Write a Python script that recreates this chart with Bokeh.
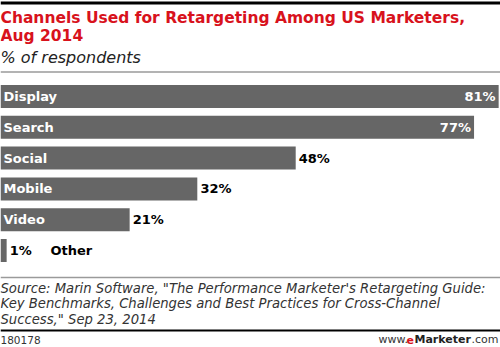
from bokeh.plotting import figure
from bokeh.models import ColumnDataSource, Range1d, Label, Span
from bokeh.core.properties import value
from bokeh.embed import file_html
from bokeh.resources import INLINE

categories = ["Display", "Search", "Social", "Mobile", "Video", "Other"]
values = [81, 77, 48, 32, 21, 1]
value_labels = ["81%", "77%", "48%", "32%", "21%", "1%"]

title_lines = ["Channels Used for Retargeting Among US Marketers,", "Aug 2014"]
subtitle = "% of respondents"
source_lines = [
    "Source: Marin Software, \"The Performance Marketer's Retargeting Guide:",
    "Key Benchmarks, Challenges and Best Practices for Cross-Channel",
    "Success,\" Sep 23, 2014",
]
chart_id = "180178"

W, H = 500, 347
PX_PER_PCT = 6.15
FONT = "DejaVu Sans"

p = figure(width=W, height=H, output_backend="svg", toolbar_location=None,
           x_range=Range1d(0, W / PX_PER_PCT), y_range=Range1d(H, 0),
           min_border=0, min_border_left=0, min_border_right=0,
           min_border_top=0, min_border_bottom=0)
p.axis.visible = False
p.grid.visible = False
p.outline_line_color = None
p.background_fill_color = "white"
p.border_fill_color = "white"

# bars
y0, step = 96, 30.8
ys = [y0 + i * step for i in range(len(categories))]
inside = [v > 60 for v in values]
src = ColumnDataSource(dict(
    y=ys, v=values, cat=categories, lab=value_labels,
    lab_x=[v - 0.5 if ins else v + 0.5 for v, ins in zip(values, inside)],
    lab_align=["right" if ins else "left" for ins in inside],
    lab_color=["white" if ins else "black" for ins in inside],
))
p.hbar(y="y", left=0, right="v", height=23, source=src,
       fill_color="#666666", line_color=None)

LBL = "13px"
big = ColumnDataSource(dict(
    y=[y for y, v in zip(ys, values) if v > 5],
    cat=[c for c, v in zip(categories, values) if v > 5],
    x=[3 / PX_PER_PCT] * sum(v > 5 for v in values),
))
p.text(x="x", y="y", text="cat", source=big, text_color="white",
       text_font=value(FONT), text_font_style="bold", text_font_size=LBL,
       text_baseline="middle", text_align="left")
p.text(x="lab_x", y="y", text="lab", source=src, text_color="lab_color",
       text_font=value(FONT), text_font_style="bold", text_font_size=LBL,
       text_baseline="middle", text_align="lab_align")
small = ColumnDataSource(dict(
    y=[y for y, v in zip(ys, values) if v <= 5],
    cat=[c for c, v in zip(categories, values) if v <= 5],
    x=[50 / PX_PER_PCT] * sum(v <= 5 for v in values),
))
p.text(x="x", y="y", text="cat", source=small, text_color="black",
       text_font=value(FONT), text_font_style="bold", text_font_size=LBL,
       text_baseline="middle", text_align="left")

# rules
p.add_layout(Span(location=2.5, dimension="width", line_color="black", line_width=3))
p.add_layout(Span(location=71.5, dimension="width", line_color="#9a9a9a", line_width=1.5))
p.add_layout(Span(location=277, dimension="width", line_color="#9a9a9a", line_width=1.5))
p.add_layout(Span(location=330, dimension="width", line_color="black", line_width=2))

# title
for i, t in enumerate(title_lines):
    p.add_layout(Label(x=0, y=17.5 + i * 17.5, x_units="screen", text=t,
                       text_color="#d8121c", text_font=FONT, text_font_style="bold",
                       text_font_size="15.5px", text_baseline="middle"))
p.add_layout(Label(x=0, y=57, x_units="screen", text=subtitle, text_color="#222222",
                   text_font=FONT, text_font_style="italic", text_font_size="16px",
                   text_baseline="middle"))
for i, t in enumerate(source_lines):
    p.add_layout(Label(x=0, y=287.5 + i * 15.5, x_units="screen", text=t,
                       text_color="#333333", text_font=FONT, text_font_style="italic",
                       text_font_size="13.2px", text_baseline="middle"))
p.add_layout(Label(x=0, y=339, x_units="screen", text=chart_id, text_color="#333333",
                   text_font=FONT, text_font_size="10.5px", text_baseline="middle"))
for x, t, col, sty in [(378, "www.", "#333333", "normal"), (406, "e", "#d8121c", "bold"),
                       (414, "Marketer", "#222222", "bold"), (471, ".com", "#333333", "normal")]:
    p.add_layout(Label(x=x, y=339, x_units="screen", text=t, text_color=col,
                       text_font=FONT, text_font_style=sty, text_font_size="11px",
                       text_baseline="middle"))

open("out.html", "w").write(file_html(p, INLINE))
